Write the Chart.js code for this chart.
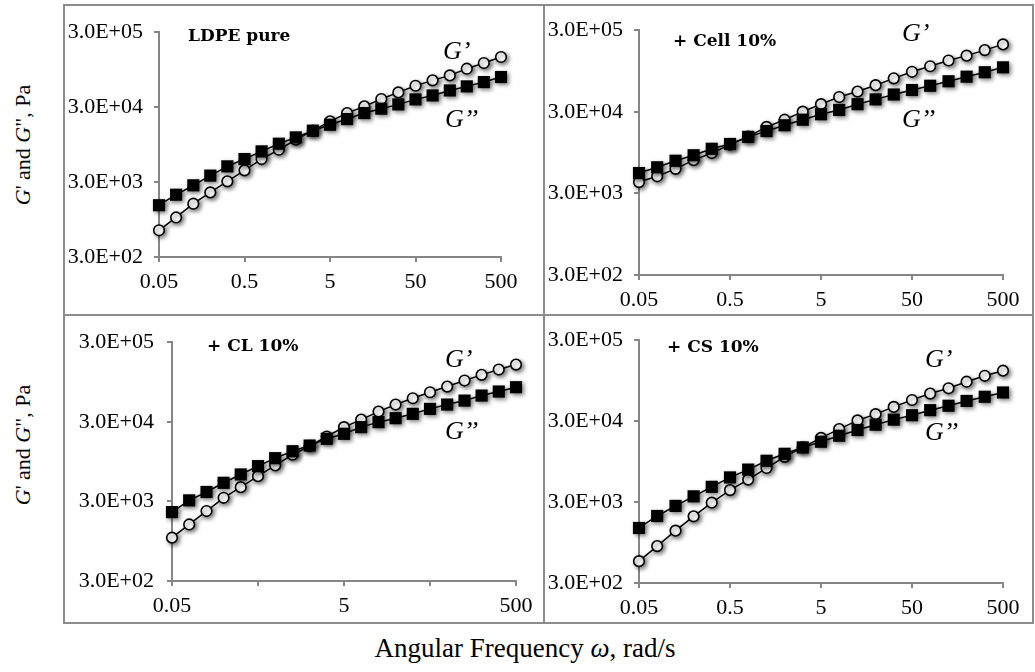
<!DOCTYPE html>
<html><head><meta charset="utf-8">
<script src="https://cdn.jsdelivr.net/npm/chart.js@4.4.1/dist/chart.umd.min.js"></script>
<style>
html,body{margin:0;padding:0;background:#fff;}
body{width:1035px;height:672px;position:relative;overflow:hidden;font-family:"Liberation Serif","Times New Roman",serif;color:#000;}
.pc{position:absolute;}
.ln{position:absolute;background:#8c8c8c;}
.ttl{position:absolute;font-family:"DejaVu Serif",serif;font-weight:bold;font-size:17px;white-space:nowrap;line-height:1;transform:translateY(-50%);}
.gl{position:absolute;font-family:"Liberation Serif",serif;font-style:italic;font-size:26px;white-space:nowrap;line-height:1;transform:translateY(-50%);}
.yt{position:absolute;font-size:22px;white-space:nowrap;line-height:1;transform:translate(-50%,-50%) rotate(-90deg);}
.xt{position:absolute;font-size:27px;white-space:nowrap;line-height:1;transform:translate(-50%,-50%);}
</style></head>
<body>
<div class="ln" style="left:63px;top:4px;width:971px;height:2px"></div>
<div class="ln" style="left:63px;top:622px;width:971px;height:2px"></div>
<div class="ln" style="left:63px;top:4px;width:2px;height:620px"></div>
<div class="ln" style="left:1032px;top:4px;width:2px;height:620px"></div>
<div class="ln" style="left:543px;top:4px;width:2px;height:620px"></div>
<div class="ln" style="left:63px;top:314px;width:971px;height:2px"></div>

<canvas id="c1" class="pc" width="478" height="308" style="left:65px;top:6px"></canvas>
<canvas id="c2" class="pc" width="487" height="308" style="left:545px;top:6px"></canvas>
<canvas id="c3" class="pc" width="478" height="306" style="left:65px;top:316px"></canvas>
<canvas id="c4" class="pc" width="487" height="306" style="left:545px;top:316px"></canvas>

<div class="ttl" style="left:188px;top:35px">LDPE pure</div>
<div class="ttl" style="left:673px;top:40px">+ Cell 10%</div>
<div class="ttl" style="left:207px;top:345px">+ CL 10%</div>
<div class="ttl" style="left:667px;top:346px">+ CS 10%</div>

<div class="gl" style="left:443px;top:51px">G’</div>
<div class="gl" style="left:445px;top:119px">G’’</div>
<div class="gl" style="left:902px;top:33px">G’</div>
<div class="gl" style="left:902px;top:119px">G’’</div>
<div class="gl" style="left:445px;top:359px">G’</div>
<div class="gl" style="left:445px;top:431px">G’’</div>
<div class="gl" style="left:925px;top:359px">G’</div>
<div class="gl" style="left:925px;top:432px">G’’</div>

<div class="yt" style="left:23px;top:145px"><i>G</i>' and <i>G</i>", Pa</div>
<div class="yt" style="left:23px;top:445px"><i>G</i>' and <i>G</i>", Pa</div>
<div class="xt" style="left:525px;top:648px">Angular Frequency <i>ω</i>, rad/s</div>

<script>
// Angular frequency (rad/s)
const freq = [0.05, 0.0792, 0.126, 0.199, 0.315, 0.5, 0.792, 1.26, 1.99, 3.15, 5, 7.92, 12.6, 19.9, 31.5, 50, 79.2, 126, 199, 315, 500];

// LDPE pure
const ldpeGp  = [681, 1010, 1540, 2180, 3060, 4290, 6070, 8080, 11000, 14500, 19300, 24900, 30600, 38300, 47000, 57600, 68000, 79200, 97200, 115700, 139300];
const ldpeGpp = [1470, 2030, 2710, 3650, 4850, 6070, 7680, 9720, 11800, 14500, 17400, 20700, 24900, 28500, 32500, 37900, 42800, 49900, 56500, 64500, 75300];
// + Cell 10%
const cellGp  = [4130, 4860, 6000, 7670, 9370, 11880, 14900, 19600, 24000, 30100, 37200, 45500, 53100, 63600, 77100, 92800, 108400, 127600, 146300, 171000, 201000];
const cellGpp = [5330, 6270, 7540, 8800, 10570, 12100, 14800, 17400, 20500, 24000, 28000, 31600, 37200, 42600, 48900, 55500, 62600, 71000, 80800, 91600, 105200];
// + CL 10%
const clGp  = [1050, 1540, 2270, 3330, 4530, 6230, 8490, 11560, 14850, 19600, 25700, 32000, 40300, 49400, 59300, 70500, 83100, 99000, 116700, 136000, 157000];
const clGpp = [2200, 3090, 3940, 5140, 6540, 8320, 10480, 12820, 15100, 18360, 21200, 25700, 29700, 33300, 37800, 43600, 49400, 55400, 64100, 72000, 81600];
// + CS 10%
const csGp  = [558, 858, 1330, 2000, 2950, 4220, 5690, 7900, 10860, 14200, 18600, 23900, 30600, 36600, 45000, 54700, 65700, 76400, 92100, 109000, 126000];
const csGpp = [1435, 2020, 2690, 3530, 4630, 6050, 7560, 9720, 11850, 14200, 16700, 19800, 23300, 27100, 31300, 35500, 41000, 46500, 53300, 60000, 67800];

// Tick values and labels
const xTickValues = [0.05, 0.5, 5, 50, 500];
const xTickLabels = ['0.05', '0.5', '5', '50', '500'];
const xTickLabelsSparse = ['0.05', '', '5', '', '500'];
const yTickValues = [300, 3000, 30000, 300000];
const yTickLabels = ['3.0E+02', '3.0E+03', '3.0E+04', '3.0E+05'];

const AX = '#868686';
const shadowPlugin = {
  id: 'shadow',
  beforeDatasetsDraw(c) { const x = c.ctx; x.save(); x.shadowColor = 'rgba(0,0,0,0.5)'; x.shadowBlur = 4; x.shadowOffsetX = 2; x.shadowOffsetY = 2; },
  afterDatasetsDraw(c) { c.ctx.restore(); }
};

function pts(ys) { return freq.map((f, i) => ({ x: f, y: ys[i] })); }

function makeChart(id, gp, gpp, L, xLabels) {
  new Chart(document.getElementById(id), {
    type: 'line',
    data: { datasets: [
      { label: "G''", data: pts(gpp), borderColor: '#000', borderWidth: 1.5, pointStyle: 'rect', pointRadius: 8.6,
        pointBackgroundColor: '#000', pointBorderColor: '#000', pointBorderWidth: 0, clip: false, order: 0 },
      { label: "G'", data: pts(gp), borderColor: '#000', borderWidth: 1.5, pointStyle: 'circle', pointRadius: 5.3,
        pointBackgroundColor: '#fff', pointBorderColor: '#000', pointBorderWidth: 1.6, clip: false, order: 1 }
    ]},
    options: {
      responsive: false, animation: false, events: [],
      layout: { padding: { top: L.pt, right: L.pr, left: 0, bottom: 0 } },
      plugins: { legend: { display: false }, tooltip: { enabled: false } },
      scales: {
        x: {
          type: 'logarithmic', min: 0.05, max: 500,
          afterBuildTicks: s => { s.ticks = xTickValues.map(v => ({ value: v })); },
          afterFit: s => { s.height = L.xh; },
          ticks: { callback: (v, i) => xLabels[i], autoSkip: false, maxRotation: 0, minRotation: 0,
                   font: { family: 'Liberation Serif', size: 22 }, color: '#000', padding: L.xpad },
          grid: { drawOnChartArea: false, drawTicks: true, tickLength: 5, color: AX, lineWidth: 2 },
          border: { display: true, color: AX, width: 2 }
        },
        y: {
          type: 'logarithmic', min: 300, max: 300000,
          afterBuildTicks: s => { s.ticks = yTickValues.map(v => ({ value: v })); },
          afterFit: s => { s.width = L.yw; },
          ticks: { callback: (v, i) => yTickLabels[i], autoSkip: false,
                   font: { family: 'Liberation Serif', size: 22 }, color: '#000', padding: L.ypad },
          grid: { drawOnChartArea: false, drawTicks: true, tickLength: 5, color: AX, lineWidth: 2 },
          border: { display: true, color: AX, width: 2 }
        }
      }
    },
    plugins: [shadowPlugin]
  });
}

// canvas origins: c1 (65,6), c2 (545,6), c3 (65,316), c4 (545,316)
makeChart('c1', ldpeGp, ldpeGpp, { yw: 159 - 65, pr: 543 - 501, pt: 32 - 6, xh: 314 - 257, xpad: 7, ypad: 11 }, xTickLabels);
makeChart('c2', cellGp, cellGpp, { yw: 639 - 545, pr: 1032 - 1003, pt: 23 - 6, xh: 314 - 275, xpad: 7, ypad: 11 }, xTickLabels);
makeChart('c3', clGp, clGpp, { yw: 172 - 65, pr: 543 - 516, pt: 342 - 316, xh: 622 - 581, xpad: 7, ypad: 13 }, xTickLabelsSparse);
makeChart('c4', csGp, csGpp, { yw: 639 - 545, pr: 1032 - 1003, pt: 327 - 316, xh: 622 - 583, xpad: 7, ypad: 11 }, xTickLabels);
</script>
</body></html>
